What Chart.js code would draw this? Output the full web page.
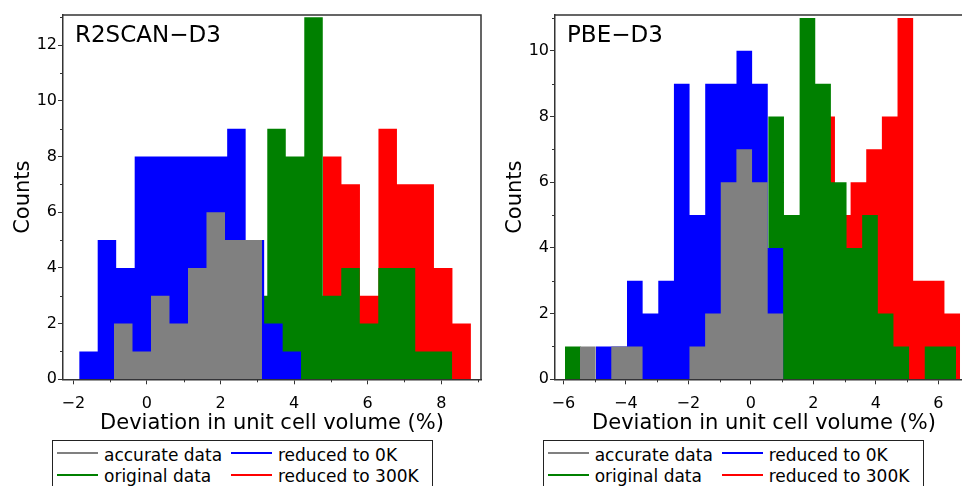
<!DOCTYPE html>
<html>
<head>
<meta charset="utf-8">
<script src="https://cdn.jsdelivr.net/npm/chart.js@4.4.1/dist/chart.umd.min.js"></script>
<style>
html,body{margin:0;padding:0;width:962px;height:486px;overflow:hidden;background:#fff;font-family:"DejaVu Sans",sans-serif;}
.wrap{position:absolute;top:0;width:490px;height:440px;}
.wrap canvas{position:absolute;left:0;top:0;}
.ptitle{position:absolute;font-size:23px;line-height:24px;color:#000;white-space:nowrap;}
.legend{position:absolute;top:440px;width:381px;height:60px;border:1px solid #222;box-sizing:border-box;}
.lt{position:absolute;font-size:17px;line-height:17px;white-space:nowrap;color:#000;}
.ls{position:absolute;height:2px;width:41px;}
</style>
</head>
<body>
<div class="wrap" id="w1" style="left:0px"><canvas id="c1" width="490" height="440"></canvas></div>
<div class="wrap" id="w2" style="left:492px"><canvas id="c2" width="490" height="440"></canvas></div>
<div id="overlay"></div>
<script>
// ---------- data ----------
const xAxisTitle = 'Deviation in unit cell volume (%)';
const yAxisTitle = 'Counts';
const panelTitles = ['R2SCAN\u2212D3', 'PBE\u2212D3'];
const seriesNames = ['accurate data', 'original data', 'reduced to 0K', 'reduced to 300K'];
const seriesColors = ['#808080', '#008000', '#0000ff', '#ff0000'];

// R2SCAN-D3 panel: bin start (left edge of first bin) and counts per bin
const r2BinWidth = 0.5027;
const r2AccurateStart = -0.894;
const r2AccurateCounts = [2, 1, 3, 2, 4, 6, 5, 5];
const r2OriginalStart = 2.769;
const r2OriginalCounts = [3, 9, 8, 13, 3, 4, 2, 4, 4, 1, 1];
const r2Reduced0Start = -1.84;
const r2Reduced0Counts = [1, 5, 4, 8, 8, 8, 8, 8, 9, 5, 2, 1];
const r2Reduced300Start = 4.785;
const r2Reduced300Counts = [8, 7, 3, 9, 7, 7, 4, 2];
const r2XRange = [-2.28, 9.08];
const r2YMax = 13.08;
const r2XMinor = [-1, 1, 3, 5, 7, 9];
const r2YMinor = [1, 3, 5, 7, 9, 11, 13];

// PBE-D3 panel
const pbeBinWidth = 0.5005;
const pbeAccurateStart = -5.466;
const pbeAccurateCounts = [1, 0, 1, 1, 0, 0, 0, 1, 2, 6, 7, 6, 2];
const pbeOriginalStart = -5.946;
const pbeOriginalCounts = [1, 0, 0, 0, 0, 0, 0, 0, 0, 0, 0, 0, 0, 8, 5, 11, 9, 6, 4, 5, 2, 1, 0, 1, 1];
const pbeReduced0Start = -4.963;
const pbeReduced0Counts = [1, 1, 3, 2, 3, 9, 5, 9, 9, 10, 9, 4];
const pbeReduced300Start = 2.192;
const pbeReduced300Counts = [8, 5, 6, 7, 8, 11, 3, 3, 2];
const pbeXRange = [-6.266, 7.11];
const pbeYMax = 11.09;
const pbeXMinor = [-5, -3, -1, 1, 3, 5, 7];
const pbeYMinor = [1, 3, 5, 7, 9, 11];

// ---------- drawing ----------
const FONT = '"DejaVu Sans", sans-serif';
const AXIS = '#333';

function stepPoints(start, width, counts) {
  const pts = counts.map((c, i) => ({x: start + i * width, y: c}));
  pts.push({x: start + counts.length * width, y: counts[counts.length - 1]});
  return pts;
}
const fmt = v => String(v).replace('-', '\u2212');

const framePlugin = {
  id: 'frame',
  afterDraw(chart, args, opts) {
    const {ctx, chartArea: a, scales: {x, y}} = chart;
    ctx.save();
    ctx.strokeStyle = AXIS;
    ctx.lineWidth = 1.5;
    ctx.beginPath();
    ctx.moveTo(a.left, a.top); ctx.lineTo(a.right, a.top); ctx.lineTo(a.right, a.bottom);
    ctx.stroke();
    ctx.lineWidth = 1;
    (opts.xMinor || []).forEach(v => {
      const p = Math.round(x.getPixelForValue(v)) + 0.5;
      ctx.beginPath(); ctx.moveTo(p, a.bottom); ctx.lineTo(p, a.bottom + 3); ctx.stroke();
    });
    (opts.yMinor || []).forEach(v => {
      const p = Math.round(y.getPixelForValue(v)) + 0.5;
      ctx.beginPath(); ctx.moveTo(a.left, p); ctx.lineTo(a.left - 3, p); ctx.stroke();
    });
    ctx.restore();
  }
};

function makeChart(id, binW, starts, counts, xRange, yMax, xMinor, yMinor) {
  // draw order: red bottom, green, blue, gray top
  const idx = [0, 2, 1, 3]; // accurate, reduced0, original, reduced300  (order value 0..3)
  const datasets = idx.map((s, k) => ({
    label: seriesNames[s],
    data: stepPoints(starts[s], binW, counts[s]),
    stepped: true,
    fill: 'origin',
    backgroundColor: seriesColors[s],
    borderColor: seriesColors[s],
    borderWidth: 0,
    pointRadius: 0,
    order: k
  }));
  return new Chart(document.getElementById(id), {
    type: 'line',
    data: {datasets},
    options: {
      responsive: false,
      animation: false,
      layout: {padding: {top: 15, right: 9, left: 0, bottom: 0}},
      plugins: {
        legend: {display: false},
        tooltip: {enabled: false},
        frame: {xMinor, yMinor}
      },
      scales: {
        x: {
          type: 'linear', min: xRange[0], max: xRange[1],
          ticks: {stepSize: 2, includeBounds: false, autoSkip: false, maxRotation: 0, padding: 10,
                  color: '#000', font: {family: FONT, size: 16}, callback: fmt},
          grid: {drawOnChartArea: false, drawTicks: true, tickLength: 5, tickColor: AXIS, tickWidth: 1},
          border: {display: true, color: AXIS, width: 1.5},
          title: {display: true, text: xAxisTitle, color: '#000', font: {family: FONT, size: 21},
                  padding: {top: 0, bottom: 4}},
          afterFit(s) { s.height = 60.7; }
        },
        y: {
          type: 'linear', min: 0, max: yMax,
          ticks: {stepSize: 2, includeBounds: false, autoSkip: false, padding: 1,
                  color: '#000', font: {family: FONT, size: 16}, callback: fmt},
          grid: {drawOnChartArea: false, drawTicks: true, tickLength: 5, tickColor: AXIS, tickWidth: 1},
          border: {display: true, color: AXIS, width: 1.5},
          title: {display: true, text: yAxisTitle, color: '#000', font: {family: FONT, size: 21},
                  padding: {top: 11, bottom: 0}},
          afterFit(s) { s.width = 63; }
        }
      }
    },
    plugins: [framePlugin]
  });
}

makeChart('c1', r2BinWidth,
  [r2AccurateStart, r2OriginalStart, r2Reduced0Start, r2Reduced300Start],
  [r2AccurateCounts, r2OriginalCounts, r2Reduced0Counts, r2Reduced300Counts],
  r2XRange, r2YMax, r2XMinor, r2YMinor);
makeChart('c2', pbeBinWidth,
  [pbeAccurateStart, pbeOriginalStart, pbeReduced0Start, pbeReduced300Start],
  [pbeAccurateCounts, pbeOriginalCounts, pbeReduced0Counts, pbeReduced300Counts],
  pbeXRange, pbeYMax, pbeXMinor, pbeYMinor);

// ---------- panel titles and legends (HTML text) ----------
const overlay = document.getElementById('overlay');
function add(html) { overlay.insertAdjacentHTML('beforeend', html); }
const panelOffsets = [0, 492];
const legendOffsets = [0, 490.7];
panelTitles.forEach((t, i) => {
  add(`<div class="ptitle" style="left:${75 + panelOffsets[i]}px;top:22px">${t}</div>`);
});
// legend layout: rows [accurate, reduced0], [original, reduced300]
const legendGrid = [[0, 2], [1, 3]];
legendOffsets.forEach(off => {
  add(`<div class="legend" style="left:${52 + off}px"></div>`);
  legendGrid.forEach((row, r) => {
    row.forEach((s, c) => {
      const lx = (c === 0 ? 57 : 231) + off;
      const tx = (c === 0 ? 104 : 278) + off;
      const ly = r === 0 ? 451.5 : 473.5;
      const ty = r === 0 ? 446.6 : 467.6;
      add(`<div class="ls" style="left:${lx}px;top:${ly}px;background:${seriesColors[s]}"></div>`);
      add(`<div class="lt" style="left:${tx}px;top:${ty}px">${seriesNames[s]}</div>`);
    });
  });
});
</script>
</body>
</html>
